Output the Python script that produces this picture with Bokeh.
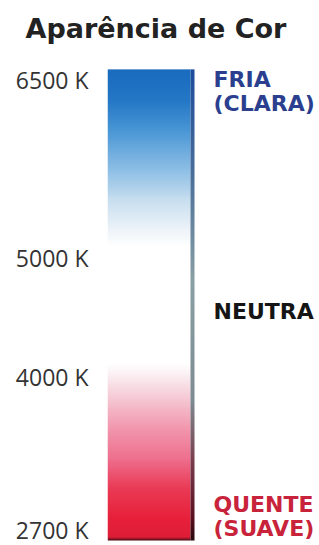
import numpy as np
from bokeh.plotting import figure
from bokeh.models import Range1d, FixedTicker, ColumnDataSource
from bokeh.embed import file_html
from bokeh.resources import INLINE
from bokeh.core.properties import value

# ---- data ----
title_text = "Aparência de Cor"
tick_temps = [6500, 5000, 4000, 2700]
tick_labels = ["6500 K", "5000 K", "4000 K", "2700 K"]

appearance_labels = ["FRIA\n(CLARA)", "NEUTRA", "QUENTE\n(SUAVE)"]
appearance_temps = [6500, 4600, 2700]
appearance_colors = ["#2b3f8f", "#151515", "#c8233a"]

# colour stops of the gradient bar (temperature in K -> colour)
gradient_temps = [2616, 2640, 2800, 3050, 3300, 3550, 3800, 3980, 4100,
                  5110, 5240, 5490, 5740, 6080, 6330, 6593]
gradient_colors = ["#5a0f1c", "#df1d37", "#e8213b", "#ea3a55", "#ee6f8e",
                   "#f296ad", "#f5c6d2", "#faeaef", "#ffffff", "#ffffff",
                   "#eef4f9", "#c8dff0", "#8fc0e6", "#4a97d6", "#2478c6",
                   "#1a6cbf"]
# colour stops of the dark right edge of the bar
edge_temps = [2616, 2800, 3300, 3800, 4800, 5700, 6593]
edge_colors = ["#2a0a10", "#5a1020", "#7a4050", "#7d8c92", "#8aa0a4",
               "#4a6f9a", "#1d4d9c"]

BAR_LO, BAR_HI = gradient_temps[0], gradient_temps[-1]


def gradient_image(temps, colors, rows, cols):
    t = np.linspace(temps[0], temps[-1], rows)
    rgb = np.array([[int(c[i:i + 2], 16) for i in (1, 3, 5)] for c in colors], float)
    img = np.zeros((rows, cols), dtype=np.uint32)
    view = img.view(dtype=np.uint8).reshape((rows, cols, 4))
    for k in range(3):
        view[:, :, k] = np.interp(t, temps, rgb[:, k])[:, None].astype(np.uint8)
    view[:, :, 3] = 255
    return img


p = figure(width=319, height=545,
           x_range=Range1d(0, 212), y_range=Range1d(2574, 6727),
           x_axis_location=None, y_axis_location="left",
           output_backend="svg", toolbar_location=None,
           min_border_left=107, min_border_right=0,
           min_border_top=52, min_border_bottom=0)
p.outline_line_color = None
p.grid.visible = False
p.background_fill_color = "white"
p.border_fill_color = "white"

p.title.text = title_text
p.title.align = "left"
p.title.offset = -82
p.title.standoff = 20
p.title.text_font = "DejaVu Sans"
p.title.text_font_style = "bold"
p.title.text_font_size = "27px"
p.title.text_color = "#222222"

ax = p.yaxis[0]
ax.ticker = FixedTicker(ticks=tick_temps)
ax.major_label_overrides = dict(zip(tick_temps, tick_labels))
ax.axis_line_color = None
ax.major_tick_line_color = None
ax.minor_tick_line_color = None
ax.major_tick_out = 0
ax.major_tick_in = 0
ax.major_label_standoff = 19
ax.major_label_text_font = "Open Sans"
ax.major_label_text_font_size = "23px"
ax.major_label_text_color = "#333333"

bar_img = gradient_image(gradient_temps, gradient_colors, 480, 1)
p.image_rgba(image=[bar_img], x=0, y=BAR_LO, dw=83, dh=BAR_HI - BAR_LO)
edge_img = gradient_image(edge_temps, edge_colors, 480, 1)
p.image_rgba(image=[edge_img], x=83, y=BAR_LO, dw=4, dh=BAR_HI - BAR_LO)

src = ColumnDataSource(dict(x=[106] * 3, y=appearance_temps,
                            text=appearance_labels, color=appearance_colors,
                            yoff=[11, 6, -14]))
p.text(x="x", y="y", text="text", source=src, text_color="color",
       text_font=value("DejaVu Sans"), text_font_style="bold",
       text_font_size="22px", text_baseline="middle", text_align="left",
       text_line_height=0.95, y_offset="yoff")

open("out.html", "w").write(file_html(p, INLINE))
